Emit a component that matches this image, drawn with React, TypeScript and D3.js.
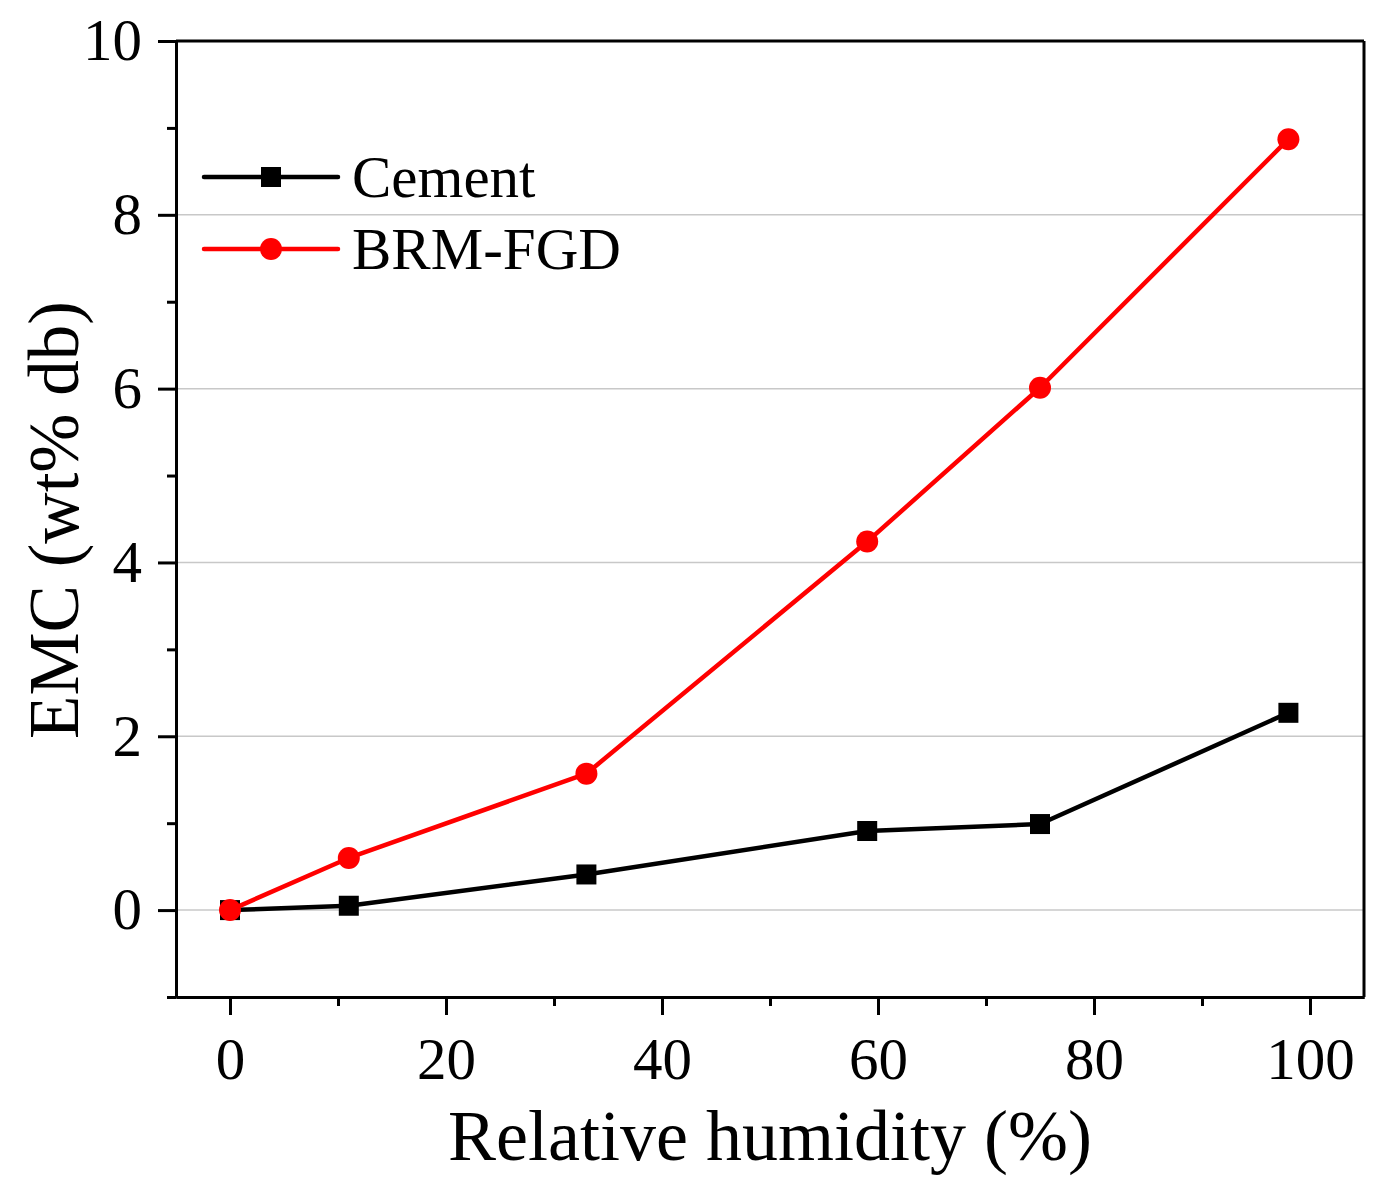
import * as d3 from 'd3'
import { useEffect, useRef } from 'react'

const humidity = [0, 11, 33, 59, 75, 98]
const cement = [0, 0.05, 0.41, 0.91, 0.99, 2.27]
const brmFgd = [0, 0.6, 1.57, 4.24, 6.01, 8.87]
const xMajor = [0, 20, 40, 60, 80, 100]
const xMinor = [10, 30, 50, 70, 90]
const yMajor = [0, 2, 4, 6, 8, 10]
const yMinor = [-1, 1, 3, 5, 7, 9]

const FONT = '"Liberation Serif", "Times New Roman", serif'

export default function App() {
  const ref = useRef<SVGSVGElement | null>(null)

  useEffect(() => {
    if (!ref.current) return
    const width = 1386
    const height = 1192
    const margin = { top: 41, right: 22, bottom: 195, left: 176 }

    const svg = d3.select(ref.current)
    svg.selectAll('*').remove()

    const x = d3.scaleLinear().domain([-5, 105]).range([margin.left, width - margin.right])
    const y = d3.scaleLinear().domain([-1, 10]).range([height - margin.bottom, margin.top])

    // grid
    svg.append('g')
      .selectAll('line')
      .data(yMajor.slice(0, -1))
      .join('line')
      .attr('x1', margin.left)
      .attr('x2', width - margin.right)
      .attr('y1', d => y(d))
      .attr('y2', d => y(d))
      .attr('stroke', '#c8c8c8')
      .attr('stroke-width', 1.5)

    const axisStyle = (g: any) => {
      g.select('.domain').attr('stroke', '#000').attr('stroke-width', 3)
      g.selectAll('.tick line').attr('stroke', '#000').attr('stroke-width', 3)
      g.selectAll('text').attr('font-family', FONT).attr('font-size', 59).attr('fill', '#000')
    }

    // x axis
    const bottom = height - margin.bottom
    svg.append('g')
      .attr('transform', `translate(0, ${bottom})`)
      .call(d3.axisBottom(x).tickValues(xMinor).tickSize(9).tickSizeOuter(0).tickFormat(() => '') as any)
      .call(axisStyle)
    svg.append('g')
      .attr('transform', `translate(0, ${bottom})`)
      .call(d3.axisBottom(x).tickValues(xMajor).tickSize(18).tickSizeOuter(0).tickPadding(22).tickFormat(d3.format('d')) as any)
      .call(axisStyle)

    // y axis
    svg.append('g')
      .attr('transform', `translate(${margin.left}, 0)`)
      .call(d3.axisLeft(y).tickValues(yMinor).tickSize(9).tickSizeOuter(0).tickFormat(() => '') as any)
      .call(axisStyle)
    svg.append('g')
      .attr('transform', `translate(${margin.left}, 0)`)
      .call(d3.axisLeft(y).tickValues(yMajor).tickSize(18).tickSizeOuter(0).tickPadding(16).tickFormat(d3.format('d')) as any)
      .call(axisStyle)

    // top and right frame
    svg.append('line')
      .attr('x1', margin.left).attr('x2', width - margin.right)
      .attr('y1', margin.top).attr('y2', margin.top)
      .attr('stroke', '#000').attr('stroke-width', 3)
    svg.append('line')
      .attr('x1', width - margin.right).attr('x2', width - margin.right)
      .attr('y1', margin.top).attr('y2', bottom)
      .attr('stroke', '#000').attr('stroke-width', 3)

    const series = [
      { name: 'Cement', values: cement, color: '#000', shape: 'square' },
      { name: 'BRM-FGD', values: brmFgd, color: '#ff0000', shape: 'circle' },
    ]

    const line = d3.line<number>()
      .x((_, i) => x(humidity[i]))
      .y(d => y(d))

    const drawMarker = (g: any, shape: string, color: string, cx: number, cy: number) => {
      if (shape === 'square') {
        g.append('rect')
          .attr('x', cx - 10).attr('y', cy - 10)
          .attr('width', 20).attr('height', 20)
          .attr('fill', color)
      } else {
        g.append('circle')
          .attr('cx', cx).attr('cy', cy).attr('r', 11)
          .attr('fill', color)
      }
    }

    series.forEach(s => {
      svg.append('path')
        .datum(s.values)
        .attr('fill', 'none')
        .attr('stroke', s.color)
        .attr('stroke-width', 4.5)
        .attr('stroke-linejoin', 'round')
        .attr('d', line)
      const mg = svg.append('g')
      s.values.forEach((v, i) => drawMarker(mg, s.shape, s.color, x(humidity[i]), y(v)))
    })

    // legend
    const legend = svg.append('g')
    series.forEach((s, i) => {
      const ly = 177 + i * 72
      legend.append('line')
        .attr('x1', 204).attr('x2', 338)
        .attr('y1', ly).attr('y2', ly)
        .attr('stroke', s.color).attr('stroke-width', 4.5)
        .attr('stroke-linecap', 'round')
      drawMarker(legend, s.shape, s.color, 271, ly)
      legend.append('text')
        .attr('x', 352).attr('y', ly + 20)
        .attr('font-family', FONT).attr('font-size', 59)
        .text(s.name)
    })

    // axis titles
    svg.append('text')
      .attr('x', 770).attr('y', 1160)
      .attr('text-anchor', 'middle')
      .attr('font-family', FONT).attr('font-size', 72)
      .text('Relative humidity (%)')
    svg.append('text')
      .attr('transform', `translate(78, 520) rotate(-90)`)
      .attr('text-anchor', 'middle')
      .attr('font-family', FONT).attr('font-size', 71)
      .text('EMC (wt% db)')
  }, [])

  return (
    <svg
      ref={ref}
      width={1386}
      height={1192}
      style={{ position: 'absolute', left: 0, top: 0, background: '#fff' }}
    />
  )
}
